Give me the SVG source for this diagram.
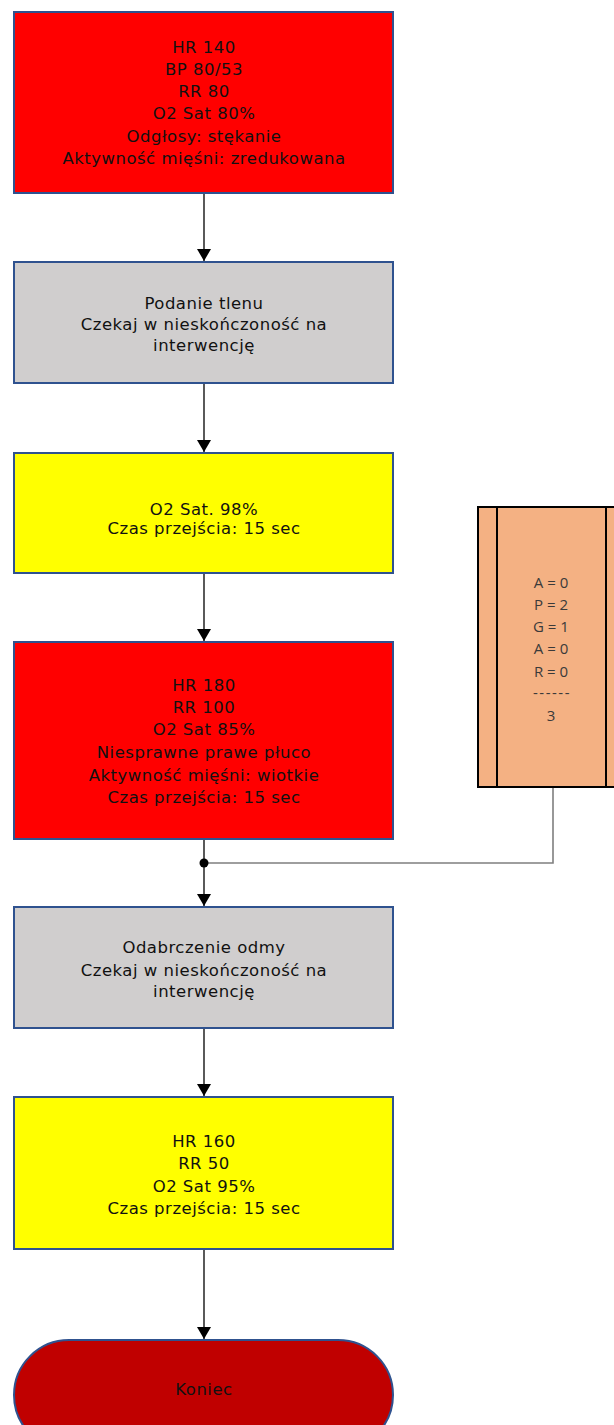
<svg xmlns="http://www.w3.org/2000/svg" width="614" height="1425" viewBox="0 0 614 1425">
  <style>
    .box { stroke: #2f528f; stroke-width: 2; }
    .red { fill: #ff0000; }
    .gray { fill: #d0cece; }
    .yellow { fill: #ffff00; }
    .end { fill: #c00000; }
    .lbl { font-family: "DejaVu Sans", sans-serif; font-size: 16.5px; letter-spacing: 0.5px; fill: #111; text-anchor: middle; }
    .apgar { font-family: "Open Sans", "Liberation Sans", sans-serif; font-size: 15px; fill: #3a3a3a; text-anchor: middle; }
    .flow { stroke: #000; stroke-width: 1.3; fill: none; }
    .link { stroke: #7f7f7f; stroke-width: 1.6; fill: none; }
  </style>
  <defs>
    <marker id="arrow" viewBox="0 0 12 14" refX="12" refY="7" markerWidth="12" markerHeight="14" markerUnits="userSpaceOnUse" orient="auto">
      <path d="M0,0 L12,7 L0,14 Z" fill="#000"/>
    </marker>
  </defs>
  <rect width="614" height="1425" fill="#fff"/>

  <g id="connectors">
    <line class="flow" x1="204" y1="194" x2="204" y2="261" marker-end="url(#arrow)"/>
    <line class="flow" x1="204" y1="384" x2="204" y2="452" marker-end="url(#arrow)"/>
    <line class="flow" x1="204" y1="574" x2="204" y2="641" marker-end="url(#arrow)"/>
    <line class="flow" x1="204" y1="840" x2="204" y2="906" marker-end="url(#arrow)"/>
    <line class="flow" x1="204" y1="1029" x2="204" y2="1096" marker-end="url(#arrow)"/>
    <line class="flow" x1="204" y1="1250" x2="204" y2="1339" marker-end="url(#arrow)"/>
    <polyline class="link" points="553,787 553,863 204,863"/>
    <circle cx="204" cy="863" r="4.5" fill="#000"/>
  </g>

  <g id="node-stan1">
    <rect class="box red" x="14" y="12" width="379" height="181"/>
    <text class="lbl" x="204" y="53">HR 140</text>
    <text class="lbl" x="204" y="75">BP 80/53</text>
    <text class="lbl" x="204" y="97">RR 80</text>
    <text class="lbl" x="204" y="119">O2 Sat 80%</text>
    <text class="lbl" x="204" y="142">Odgłosy: stękanie</text>
    <text class="lbl" x="204" y="164">Aktywność mięśni: zredukowana</text>
  </g>

  <g id="node-tlen">
    <rect class="box gray" x="14" y="262" width="379" height="121"/>
    <text class="lbl" x="204" y="309">Podanie tlenu</text>
    <text class="lbl" x="204" y="330">Czekaj w nieskończoność na</text>
    <text class="lbl" x="204" y="351">interwencję</text>
  </g>

  <g id="node-stan2">
    <rect class="box yellow" x="14" y="453" width="379" height="120"/>
    <text class="lbl" x="204" y="515">O2 Sat. 98%</text>
    <text class="lbl" x="204" y="534">Czas przejścia: 15 sec</text>
  </g>

  <g id="node-stan3">
    <rect class="box red" x="14" y="642" width="379" height="197"/>
    <text class="lbl" x="204" y="691">HR 180</text>
    <text class="lbl" x="204" y="713">RR 100</text>
    <text class="lbl" x="204" y="735">O2 Sat 85%</text>
    <text class="lbl" x="204" y="758">Niesprawne prawe płuco</text>
    <text class="lbl" x="204" y="781">Aktywność mięśni: wiotkie</text>
    <text class="lbl" x="204" y="803">Czas przejścia: 15 sec</text>
  </g>

  <g id="node-apgar">
    <rect x="478" y="507" width="140" height="280" fill="#f4b183" stroke="#000" stroke-width="2"/>
    <line x1="497" y1="507" x2="497" y2="787" stroke="#000" stroke-width="2"/>
    <line x1="606" y1="507" x2="606" y2="787" stroke="#000" stroke-width="2"/>
    <text class="apgar" x="551" y="588">A = 0</text>
    <text class="apgar" x="551" y="610">P = 2</text>
    <text class="apgar" x="551" y="632">G = 1</text>
    <text class="apgar" x="551" y="654">A = 0</text>
    <text class="apgar" x="551" y="677">R = 0</text>
    <text class="apgar" x="552" y="698" letter-spacing="1.5">------</text>
    <text class="apgar" x="551" y="721">3</text>
  </g>

  <g id="node-odma">
    <rect class="box gray" x="14" y="907" width="379" height="121"/>
    <text class="lbl" x="204" y="953">Odabrczenie odmy</text>
    <text class="lbl" x="204" y="976">Czekaj w nieskończoność na</text>
    <text class="lbl" x="204" y="997">interwencję</text>
  </g>

  <g id="node-stan4">
    <rect class="box yellow" x="14" y="1097" width="379" height="152"/>
    <text class="lbl" x="204" y="1147">HR 160</text>
    <text class="lbl" x="204" y="1169">RR 50</text>
    <text class="lbl" x="204" y="1192">O2 Sat 95%</text>
    <text class="lbl" x="204" y="1214">Czas przejścia: 15 sec</text>
  </g>

  <g id="node-koniec">
    <rect class="box end" x="14" y="1340" width="379" height="110" rx="55" ry="55"/>
    <text class="lbl" x="204" y="1395">Koniec</text>
  </g>
</svg>
